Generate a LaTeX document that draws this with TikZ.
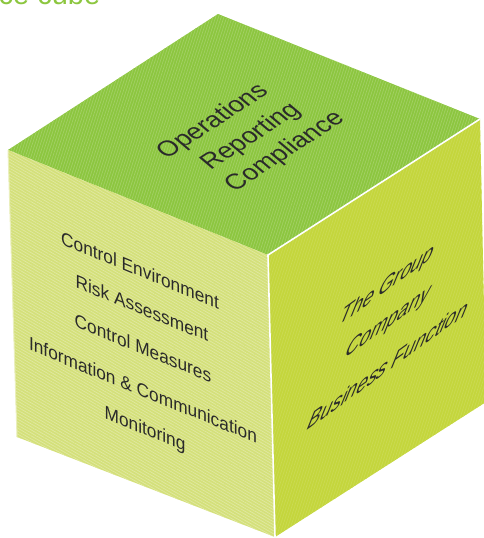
\documentclass[tikz,border=0pt]{standalone}
\usepackage{fontspec}
\setmainfont{Liberation Sans}
\usetikzlibrary{patterns.meta}
\definecolor{topgreen}{HTML}{8CC63F}
\definecolor{leftgreen}{HTML}{D4E07A}
\definecolor{rightgreen}{HTML}{C4D63C}
\definecolor{inkgrey}{HTML}{2A2A2A}
\tikzset{
  facelabel/.style={inner sep=0pt, text=inkgrey, transform shape},
  lefttext/.style={facelabel, font=\fontsize{17.3}{20}\selectfont, cm={1,-0.41,0,1.08,(0,0)}},
  toptext/.style={facelabel, font=\fontsize{25}{30}\selectfont, cm={0.84,0.544,-0.78,0.66,(0,0)}},
  righttext/.style={facelabel, font=\fontsize{24}{28}\selectfont, cm={0.809,0.588,0.46,1.14,(0,0)}},
  edgeline/.style={white, line width=1.6pt},
  titletext/.style={text=topgreen, font=\fontsize{29}{34}\selectfont, inner sep=0pt},
  stripes/.style args={#1/#2}{pattern={Lines[angle=#1, distance=2.6pt, line width=0.7pt]}, pattern color=#2}
}
\begin{document}
\begin{tikzpicture}[x=1pt,y=-1pt]
\clip (0,0) rectangle (484,538);

% cube corners
\coordinate (L)  at (8,150);
\coordinate (T)  at (218,14);
\coordinate (R)  at (480,119);
\coordinate (F)  at (268,255);
\coordinate (BL) at (17,437);
\coordinate (B)  at (275,537);
\coordinate (BR) at (486,402);

% heading
\node[titletext, anchor=base east] (title) at (100.5,5) {Compliance cube};

% faces, each with a fine diagonal grain
\fill[topgreen]   (L) -- (T) -- (R) -- (F) -- cycle;
\path[stripes={72/topgreen!80!white}] (L) -- (T) -- (R) -- (F) -- cycle;
\fill[leftgreen]  (L) -- (F) -- (B) -- (BL) -- cycle;
\path[stripes={-30/leftgreen!70!white}] (L) -- (F) -- (B) -- (BL) -- cycle;
\fill[rightgreen] (F) -- (R) -- (BR) -- (B) -- cycle;
\path[stripes={72/rightgreen!88!white}] (F) -- (R) -- (BR) -- (B) -- cycle;

% lighter rim on the left edge
\draw[leftgreen!50!white, line width=1pt] (L) -- (BL);

% highlighted edges
\draw[edgeline] (R) -- (F) -- (B);

% top face: objectives
\begin{scope}[shift={(213,122)}]\node[toptext] (ops) {Operations};\end{scope}
\begin{scope}[shift={(251,137)}]\node[toptext] (rep) {Reporting};\end{scope}
\begin{scope}[shift={(285,152)}]\node[toptext] (comp) {Compliance};\end{scope}

% left face: components
\begin{scope}[shift={(140,270)}]\node[lefttext] (env) {Control Environment};\end{scope}
\begin{scope}[shift={(142,308)}]\node[lefttext] (risk) {Risk Assessment};\end{scope}
\begin{scope}[shift={(143,348)}]\node[lefttext] (meas) {Control Measures};\end{scope}
\begin{scope}[shift={(143,390)}]\node[lefttext] (info) {Information \& Communication};\end{scope}
\begin{scope}[shift={(145,430)}]\node[lefttext] (mon) {Monitoring};\end{scope}

% right face: organisational levels
\begin{scope}[shift={(387,286)}]\node[righttext] (grp) {The Group};\end{scope}
\begin{scope}[shift={(388,323)}]\node[righttext] (cmp) {Company};\end{scope}
\begin{scope}[shift={(389,364)}]\node[righttext] (bus) {Business Function};\end{scope}
\end{tikzpicture}
\end{document}
